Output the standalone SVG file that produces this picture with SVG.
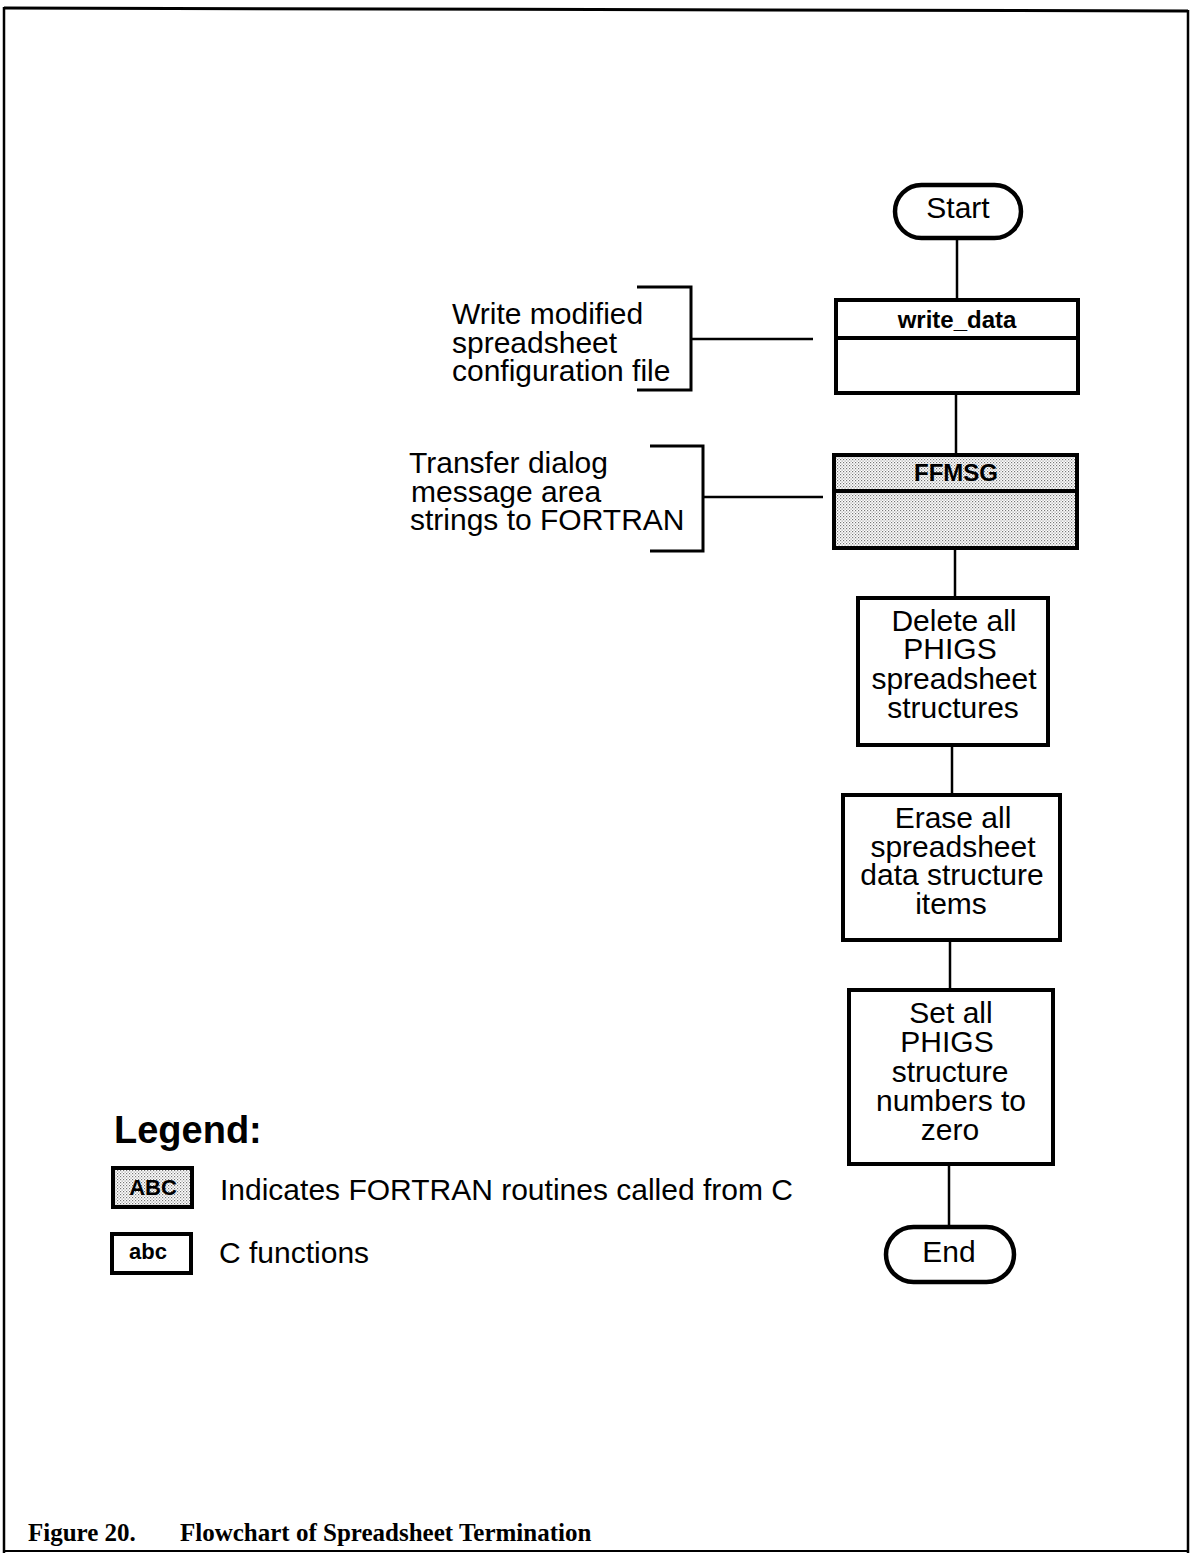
<svg xmlns="http://www.w3.org/2000/svg" width="1191" height="1553" viewBox="0 0 1191 1553">
  <defs>
    <pattern id="dots" width="3" height="3" patternUnits="userSpaceOnUse">
      <rect width="3" height="3" fill="#ffffff"/>
      <rect x="0" y="0" width="1.2" height="1.2" fill="#777"/>
      <rect x="1.5" y="1.5" width="1.2" height="1.2" fill="#999"/>
    </pattern>
    <style>
      .box { fill: #fff; stroke: #000; stroke-width: 4; }
      .shaded { fill: url(#dots); stroke: #000; stroke-width: 4; }
      .term { fill: #fff; stroke: #000; stroke-width: 4.5; }
      .link { stroke: #000; stroke-width: 2.5; fill: none; }
      .brk { stroke: #000; stroke-width: 3; fill: none; }
      .t { font-family: "Liberation Sans", Arial, sans-serif; font-size: 30px; fill: #000; }
      .c { text-anchor: middle; }
      .b { font-family: "Liberation Sans", Arial, sans-serif; font-weight: bold; fill: #000; }
      .cap { font-family: "Liberation Serif", "Times New Roman", serif; font-weight: bold; font-size: 25px; fill: #000; }
    </style>
  </defs>

  <rect width="1191" height="1553" fill="#fff"/>

  <!-- page frame -->
  <g id="frame" fill="none" stroke="#000">
    <path d="M4 8 L1188 11" stroke-width="3"/>
    <path d="M4 7 L4 1553" stroke-width="2.5"/>
    <path d="M1188 10 L1188 1553" stroke-width="2.5"/>
    <path d="M4 1551 L1188 1551" stroke-width="2"/>
  </g>

  <!-- connectors -->
  <g id="connectors">
    <line class="link" x1="957" y1="239" x2="957" y2="300"/>
    <line class="link" x1="956" y1="393" x2="956" y2="455"/>
    <line class="link" x1="955" y1="548" x2="955" y2="598"/>
    <line class="link" x1="952" y1="745" x2="952" y2="795"/>
    <line class="link" x1="950" y1="940" x2="950" y2="990"/>
    <line class="link" x1="949" y1="1164" x2="949" y2="1227"/>
    <!-- annotation brackets -->
    <path class="brk" d="M637 287 H691 V390 H637"/>
    <line class="link" x1="691" y1="339" x2="813" y2="339"/>
    <path class="brk" d="M650 446 H703 V551 H650"/>
    <line class="link" x1="703" y1="497" x2="823" y2="497"/>
  </g>

  <g id="start">
    <rect class="term" x="895" y="185" width="126" height="53" rx="26.5"/>
    <text class="t c" x="958" y="218" font-size="24">Start</text>
  </g>

  <g id="write_data">
    <rect class="box" x="836" y="300" width="242" height="93"/>
    <line x1="836" y1="338" x2="1078" y2="338" stroke="#000" stroke-width="4"/>
    <text class="b c" x="957" y="328" font-size="24">write_data</text>
  </g>

  <g id="ffmsg">
    <rect class="shaded" x="834" y="455" width="243" height="93"/>
    <line x1="834" y1="491" x2="1077" y2="491" stroke="#000" stroke-width="4"/>
    <text class="b c" x="956" y="481" font-size="24">FFMSG</text>
  </g>

  <g id="note_write">
    <text class="t" x="452" y="324">Write modified</text>
    <text class="t" x="452" y="353">spreadsheet</text>
    <text class="t" x="452" y="381">configuration file</text>
  </g>

  <g id="note_transfer">
    <text class="t" x="409" y="473">Transfer dialog</text>
    <text class="t" x="411" y="502">message area</text>
    <text class="t" x="410" y="530">strings to FORTRAN</text>
  </g>

  <g id="delete_structures">
    <rect class="box" x="858" y="598" width="190" height="147"/>
    <text class="t c" x="954" y="631">Delete all</text>
    <text class="t c" x="950" y="659">PHIGS</text>
    <text class="t c" x="954" y="689">spreadsheet</text>
    <text class="t c" x="953" y="718">structures</text>
  </g>

  <g id="erase_items">
    <rect class="box" x="843" y="795" width="217" height="145"/>
    <text class="t c" x="953" y="828">Erase all</text>
    <text class="t c" x="953" y="857">spreadsheet</text>
    <text class="t c" x="952" y="885">data structure</text>
    <text class="t c" x="951" y="914">items</text>
  </g>

  <g id="reset_numbers">
    <rect class="box" x="849" y="990" width="204" height="174"/>
    <text class="t c" x="951" y="1023">Set all</text>
    <text class="t c" x="947" y="1052">PHIGS</text>
    <text class="t c" x="950" y="1082">structure</text>
    <text class="t c" x="951" y="1111">numbers to</text>
    <text class="t c" x="950" y="1140">zero</text>
  </g>

  <g id="end">
    <rect class="term" x="886" y="1227" width="128" height="55" rx="27.5"/>
    <text class="t c" x="949" y="1262" font-size="24">End</text>
  </g>

  <g id="legend">
    <text class="b" x="114" y="1143" font-size="38">Legend:</text>
    <rect class="shaded" x="113" y="1168" width="79" height="39"/>
    <text class="b c" x="153" y="1195" font-size="22">ABC</text>
    <text class="t" x="220" y="1200">Indicates FORTRAN routines called from C</text>
    <rect class="box" x="112" y="1234" width="79" height="39"/>
    <text class="b c" x="148" y="1259" font-size="22">abc</text>
    <text class="t" x="219" y="1263">C functions</text>
  </g>

  <g id="caption">
    <text class="cap" x="28" y="1541">Figure 20.</text>
    <text class="cap" x="180" y="1541">Flowchart of Spreadsheet Termination</text>
  </g>
</svg>
